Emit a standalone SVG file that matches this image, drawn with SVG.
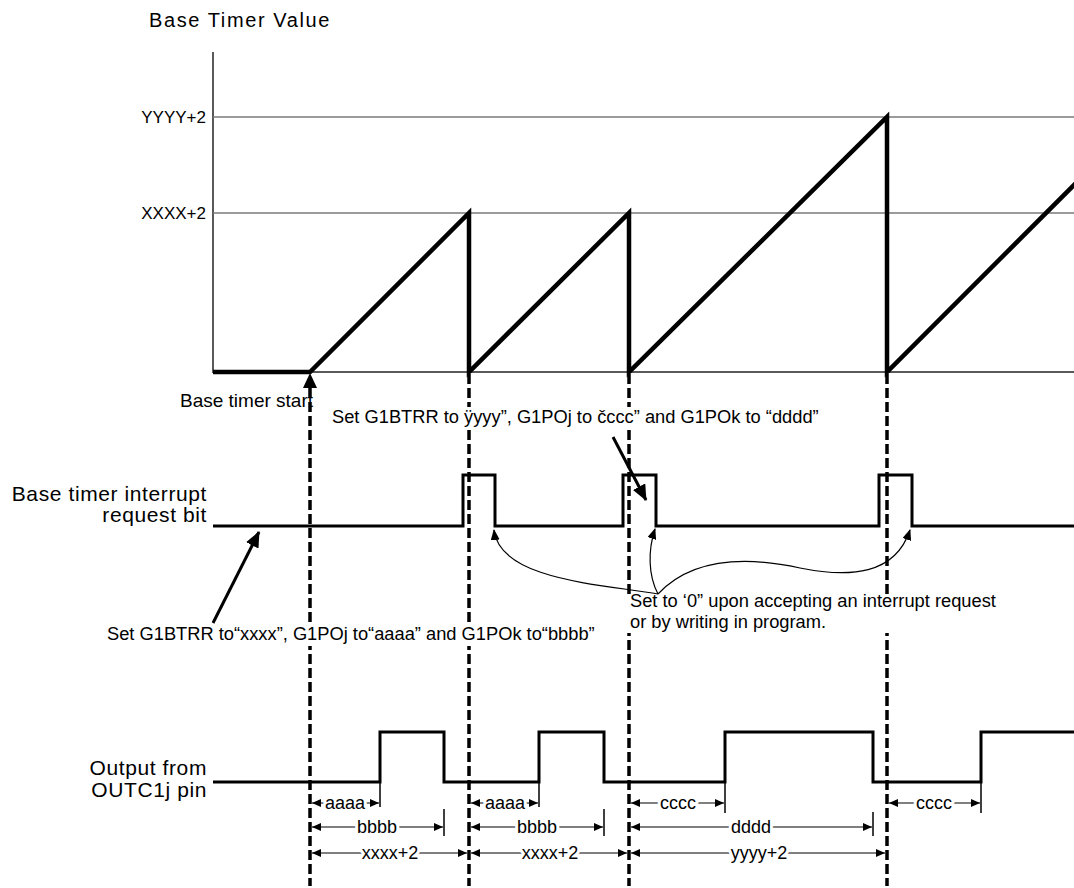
<svg xmlns="http://www.w3.org/2000/svg" width="1074" height="888" viewBox="0 0 1074 888">
<style>
text{font-family:"Liberation Sans",Arial,sans-serif;fill:#000}
.lbl{font-size:21px;letter-spacing:0.6px}
.ax{font-size:17px}
.note{font-size:18.3px}
.dim{font-size:18px;text-anchor:middle;stroke:#fff;stroke-width:6px;paint-order:stroke;stroke-linejoin:round}
.grid{stroke:#7a7a7a;stroke-width:1.5;fill:none}
.thin{stroke:#222;stroke-width:1.5;fill:none}
.ramp{stroke:#000;stroke-width:4.5;fill:none;stroke-linejoin:miter}
.sig{stroke:#000;stroke-width:3;fill:none}
.dash{stroke:#000;stroke-width:3.5;stroke-dasharray:10 4;fill:none}
.dl{stroke:#000;stroke-width:1.2;fill:none;marker-start:url(#ah);marker-end:url(#ah)}
.tick{stroke:#000;stroke-width:1.5;fill:none}
.big{stroke:#000;stroke-width:3;fill:none;marker-end:url(#bh)}
.crv{stroke:#000;stroke-width:1.2;fill:none;marker-end:url(#ch)}
.gap{fill:#fff}
</style>
<defs>
<marker id="ah" markerUnits="userSpaceOnUse" markerWidth="9" markerHeight="8" refX="9" refY="4" orient="auto-start-reverse"><path d="M0,0 L9,4 L0,8 z" fill="#000"/></marker>
<marker id="bh" markerUnits="userSpaceOnUse" markerWidth="16" markerHeight="14" refX="15" refY="7" orient="auto"><path d="M0,0 L16,7 L0,14 z" fill="#000"/></marker>
<marker id="ch" markerUnits="userSpaceOnUse" markerWidth="11" markerHeight="9" refX="10" refY="4.5" orient="auto"><path d="M0,0 L11,4.5 L0,9 z" fill="#000"/></marker>
</defs>
<rect width="1074" height="888" fill="#fff"/>

<g id="axes">
<text x="149" y="27" style="font-size:20px;letter-spacing:1.6px">Base Timer Value</text>
<line class="thin" x1="213" y1="52" x2="213" y2="373"/>
<line class="thin" x1="213" y1="372" x2="1074" y2="372"/>
<line class="grid" x1="213" y1="117" x2="1074" y2="117"/>
<line class="grid" x1="213" y1="213" x2="1074" y2="213"/>
<text class="ax" x="206" y="123" text-anchor="end">YYYY+2</text>
<text class="ax" x="206" y="219" text-anchor="end">XXXX+2</text>
</g>

<g id="timer-value">
<polyline class="ramp" points="213,372 310,372 469,213 469,372 629,213 629,372 887,117 887,372 1076,183"/>
</g>

<g id="interrupt-bit">
<text class="lbl" x="207" y="501" text-anchor="end">Base timer interrupt</text>
<text class="lbl" x="207" y="522" text-anchor="end">request bit</text>
<polyline class="sig" points="213,526 463,526 463,475 495,475 495,526 623,526 623,475 656,475 656,526 879,526 879,475 912,475 912,526 1074,526"/>
</g>

<g id="output-pin">
<text class="lbl" x="207" y="775" text-anchor="end">Output from</text>
<text class="lbl" x="207" y="797" text-anchor="end">OUTC1j pin</text>
<polyline class="sig" points="213,782 380,782 380,732 444,732 444,782 539,782 539,732 604,732 604,782 725,782 725,732 873,732 873,782 981,782 981,732 1074,732"/>
</g>

<g id="start-note">
<text class="note" x="180" y="407" style="font-size:19px">Base timer start</text>
</g>

<g id="connectors">
<polygon points="310,373 303,388 317,388" fill="#000"/>
<line class="dash" x1="310" y1="388" x2="310" y2="886"/>
<line class="dash" x1="469" y1="374" x2="469" y2="886"/>
<line class="dash" x1="629" y1="374" x2="629" y2="886"/>
<line class="dash" x1="887" y1="374" x2="887" y2="886"/>

<line class="big" x1="613" y1="437" x2="646" y2="500"/>
<line class="big" x1="213" y1="623" x2="259" y2="532"/>

<path class="crv" d="M658,594 C600,584 500,580 494,530"/>
<path class="crv" d="M658,594 C648,575 648,550 655,529"/>
<path class="crv" d="M658,594 C690,560 740,555 800,568 C850,578 895,575 910,530"/>

<line class="tick" x1="380" y1="782" x2="380" y2="807"/>
<line class="tick" x1="539" y1="782" x2="539" y2="807"/>
<line class="tick" x1="725" y1="782" x2="725" y2="813"/>
<line class="tick" x1="981" y1="782" x2="981" y2="813"/>
<line class="tick" x1="444" y1="809" x2="444" y2="836"/>
<line class="tick" x1="604" y1="809" x2="604" y2="836"/>
<line class="tick" x1="873" y1="812" x2="873" y2="836"/>

<line class="dl" x1="312" y1="803" x2="379" y2="803"/>
<line class="dl" x1="312" y1="827" x2="443" y2="827"/>
<line class="dl" x1="312" y1="853" x2="467" y2="853"/>
<line class="dl" x1="471" y1="803" x2="538" y2="803"/>
<line class="dl" x1="471" y1="827" x2="603" y2="827"/>
<line class="dl" x1="471" y1="853" x2="627" y2="853"/>
<line class="dl" x1="631" y1="803" x2="724" y2="803"/>
<line class="dl" x1="631" y1="827" x2="872" y2="827"/>
<line class="dl" x1="631" y1="853" x2="885" y2="853"/>
<line class="dl" x1="889" y1="803" x2="980" y2="803"/>

<text class="dim" x="345" y="809">aaaa</text>
<text class="dim" x="377" y="833">bbbb</text>
<text class="dim" x="390" y="859">xxxx+2</text>
<text class="dim" x="505" y="809">aaaa</text>
<text class="dim" x="537" y="833">bbbb</text>
<text class="dim" x="550" y="859">xxxx+2</text>
<text class="dim" x="678" y="809">cccc</text>
<text class="dim" x="751" y="833">dddd</text>
<text class="dim" x="759" y="859">yyyy+2</text>
<text class="dim" x="934" y="809">cccc</text>
</g>

<g id="notes">
<rect class="gap" x="463" y="407" width="12" height="22"/>
<rect class="gap" x="623" y="407" width="12" height="22"/>
<rect class="gap" x="304" y="625" width="12" height="21"/>
<rect class="gap" x="463" y="625" width="12" height="21"/>
<rect class="gap" x="623" y="596" width="12" height="37"/>
<rect class="gap" x="881" y="596" width="12" height="37"/>
<text class="note" x="332" y="423">Set G1BTRR to ÿyyy”, G1POj to čccc” and G1POk to “dddd”</text>
<text class="note" x="107" y="640">Set G1BTRR to“xxxx”, G1POj to“aaaa” and G1POk to“bbbb”</text>
<text class="note" x="630" y="607">Set to ‘0” upon accepting an interrupt request</text>
<text class="note" x="630" y="628">or by writing in program.</text>
</g>
</svg>
